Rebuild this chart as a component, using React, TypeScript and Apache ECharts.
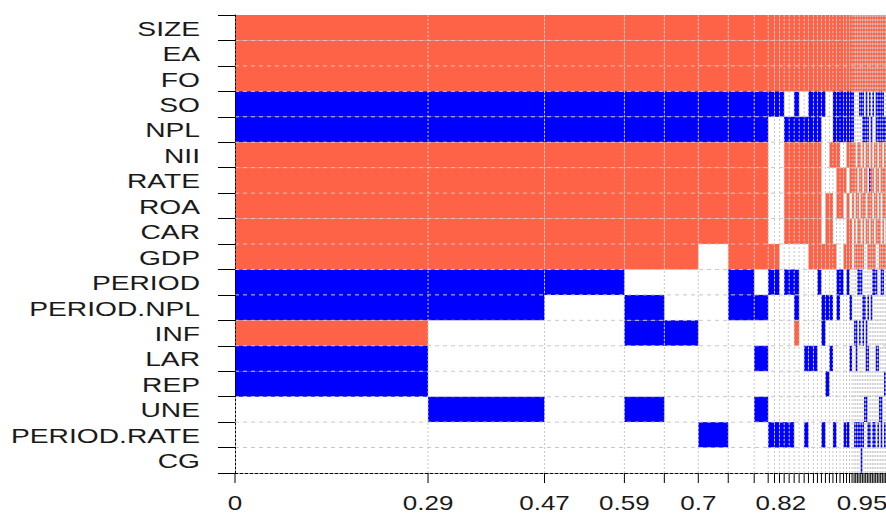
import React, { useEffect, useRef } from 'react';
import * as echarts from 'echarts';

// Variables (rows, top to bottom)
const variables = [
  'SIZE', 'EA', 'FO', 'SO', 'NPL', 'NII', 'RATE', 'ROA', 'CAR', 'GDP',
  'PERIOD', 'PERIOD.NPL', 'INF', 'LAR', 'REP', 'UNE', 'PERIOD.RATE', 'CG',
];

// Posterior model probabilities (column widths), best model first
const modelPMP = [
  0.290, 0.175, 0.120, 0.060, 0.051, 0.045, 0.039, 0.021,
  0.0095, 0.0075, 0.007, 0.0075, 0.0075, 0.0075, 0.0075, 0.0065, 0.0075,
  0.006, 0.006, 0.006, 0.006, 0.0053, 0.0053, 0.0053, 0.0053, 0.0045, 0.0045, 0.0038, 0.003,
  0.0025, 0.0025, 0.0025, 0.0025, 0.0025, 0.0025, 0.0025, 0.0025, 0.0025, 0.0025,
  0.0025, 0.0025, 0.0025, 0.0025, 0.0025, 0.0025, 0.0025, 0.0025, 0.0025, 0.0025,
];

// Coefficient sign per variable in each model: '+' positive, '-' negative, '0' excluded
const modelSigns = [
  '+++--+++++--+--000',
  '+++--+++++--000-00',
  '+++--+++++-0000000',
  '+++--+++++0--00-00',
  '+++--+++++00-00000',
  '+++--++++0000000-0',
  '+++--+++++--000000',
  '+++--+++++0-0-0-00',
  '+++-00000+-00000-0',
  '+++-00000+-00000-0',
  '+++-000000000000-0',
  '+++0-++++0-00000-0',
  '+++0-++++0-00000-0',
  '+++--++++0--+00000',
  '+++0-++++000000000',
  '+++0-++++0000-00-0',
  '+++--+++++000-0000',
  '+++--+++++000-0000',
  '+++--+++++-0000000',
  '+++-00000+0--000-0',
  '+++0000+++0-00-000',
  '+++00+0+++0-0-0000',
  '+++--+000+000000-0',
  '+++--+++00--000000',
  '+++--0++00-0000000',
  '+++--0+00+000000-0',
  '+++--+0+++-00000-0',
  '+++--++0++0-0-0000',
  '+++--+++0000000000',
  '+++00++0++00-000-0',
  '+++000++0+00--00-0',
  '+++00+0+++-00000-0',
  '+++-0++0++-0-000-0',
  '+++-00++0+-00000--',
  '+++--+0+++0--000-0',
  '+++0-0++000-000-00',
  '+++--++0+000--0-00',
  '+++0-+0+++0-0-00-0',
  '+++-00-+0+000000-0',
  '+++0-+++++0-000000',
  '+++-00+0++-00000-0',
  '+++00+0+0+-00000-0',
  '+++--++++0-00-0000',
  '+++--0+0+0000-00-0',
  '+++--+0+++00000-00',
  '+++--++00+-0000--0',
  '+++--0++++-0000000',
  '+++0-+++0+0000-0-0',
  '+++0-+0+++00000000',
];

// Cumulative-probability axis labels
const xTickLabels = ['0', '0.29', '0.47', '0.59', '0.7', '0.82', '0.95'];
const xTickLabelAt = [0, 0.29, 0.465, 0.585, 0.696, 0.82, 0.942];
const X_MAX = 0.978;

const RED = '#FF6347';
const BLUE = '#0000FF';
const GRIDC = '#c8c8c8';
const FONT = 'Liberation Sans, Arial, sans-serif';

export default function App() {
  const ref = useRef<HTMLDivElement>(null);

  useEffect(() => {
    document.body.style.margin = '0';
    const chart = echarts.init(ref.current as HTMLDivElement, null, { renderer: 'svg' });

    const bounds: number[] = [0];
    modelPMP.forEach((p) => bounds.push(bounds[bounds.length - 1] + p));

    const cells: any[] = [];
    modelSigns.forEach((s, m) => {
      for (let v = 0; v < variables.length; v++) {
        const c = s[v];
        if (c === '+' || c === '-') {
          cells.push([bounds[m], bounds[m + 1], variables[v], c === '+' ? 1 : -1]);
        }
      }
    });

    const boundaryData = bounds.filter((b) => b <= X_MAX + 1e-9).map((b) => [b, variables[0]]);

    chart.setOption({
      animation: false,
      grid: { left: 235, right: 0, top: 15, bottom: 42, containLabel: false },
      xAxis: {
        type: 'value',
        min: 0,
        max: X_MAX,
        z: 5,
        axisLine: { show: true, onZero: false, lineStyle: { color: '#000', type: [3, 2], width: 1 } },
        axisTick: { show: false },
        axisLabel: { show: false },
        splitLine: { show: false },
      },
      yAxis: {
        type: 'category',
        data: variables,
        inverse: true,
        z: 5,
        axisLine: { show: true, onZero: false, lineStyle: { color: '#000', type: [2, 2], width: 1 } },
        axisTick: { show: true, length: 17, lineStyle: { color: '#000', width: 1 } },
        axisLabel: { show: false },
        splitLine: { show: false },
      },
      series: [
        {
          type: 'custom',
          name: 'cells',
          silent: true,
          z: 2,
          clip: true,
          encode: { x: [0, 1], y: 2 },
          data: cells,
          renderItem: (params: any, api: any) => {
            const cat = api.value(2);
            const p0 = api.coord([api.value(0), cat]);
            const p1 = api.coord([api.value(1), cat]);
            const h = api.size([0, 1])[1];
            return {
              type: 'rect',
              shape: { x: p0[0], y: p0[1] - h / 2, width: p1[0] - p0[0], height: h },
              style: { fill: api.value(3) > 0 ? RED : BLUE },
            };
          },
        },
        {
          type: 'custom',
          name: 'rowlines',
          silent: true,
          z: 3,
          encode: { x: 0, y: 1 },
          data: variables.slice(1).map((v) => [0, v]),
          renderItem: (params: any, api: any) => {
            const cs = params.coordSys;
            const h = api.size([0, 1])[1];
            const y = api.coord([0, api.value(1)])[1] - h / 2;
            return {
              type: 'line',
              shape: { x1: cs.x, y1: y, x2: cs.x + cs.width, y2: y },
              style: { stroke: GRIDC, lineWidth: 1, lineDash: [4, 4] },
            };
          },
        },
        {
          type: 'custom',
          name: 'modelbounds',
          silent: true,
          z: 3,
          encode: { x: 0, y: 1 },
          data: boundaryData,
          renderItem: (params: any, api: any) => {
            const cs = params.coordSys;
            const v = api.value(0);
            const x = api.coord([v, 0])[0];
            const bottom = cs.y + cs.height;
            const children: any[] = [
              {
                type: 'line',
                shape: { x1: x, y1: bottom, x2: x, y2: bottom + 10 },
                style: { stroke: '#000', lineWidth: 1 },
              },
            ];
            if (v > 0) {
              children.push({
                type: 'line',
                shape: { x1: x, y1: cs.y, x2: x, y2: bottom },
                style: { stroke: GRIDC, lineWidth: 1, lineDash: [2, 2] },
              });
            }
            return { type: 'group', children };
          },
        },
        {
          type: 'custom',
          name: 'ylabels',
          silent: true,
          z: 4,
          encode: { x: 0, y: 1 },
          data: variables.map((v) => [0, v]),
          renderItem: (params: any, api: any) => {
            const p = api.coord([0, api.value(1)]);
            return {
              type: 'text',
              x: p[0] - 35,
              y: p[1] + 1,
              scaleX: 1.41,
              style: {
                text: variables[params.dataIndex],
                align: 'right',
                verticalAlign: 'middle',
                fill: '#1a1a1a',
                fontSize: 20,
                fontFamily: FONT,
              },
            };
          },
        },
        {
          type: 'custom',
          name: 'xlabels',
          silent: true,
          z: 4,
          encode: { x: 0, y: 1 },
          data: xTickLabelAt.map((v) => [v, variables[0]]),
          renderItem: (params: any, api: any) => {
            const cs = params.coordSys;
            const x = api.coord([api.value(0), 0])[0];
            return {
              type: 'text',
              x,
              y: cs.y + cs.height + 30,
              scaleX: 1.3,
              style: {
                text: xTickLabels[params.dataIndex],
                align: 'center',
                verticalAlign: 'middle',
                fill: '#1a1a1a',
                fontSize: 20,
                fontFamily: FONT,
              },
            };
          },
        },
      ],
    });

    return () => chart.dispose();
  }, []);

  return <div ref={ref} style={{ width: 886, height: 515 }} />;
}
